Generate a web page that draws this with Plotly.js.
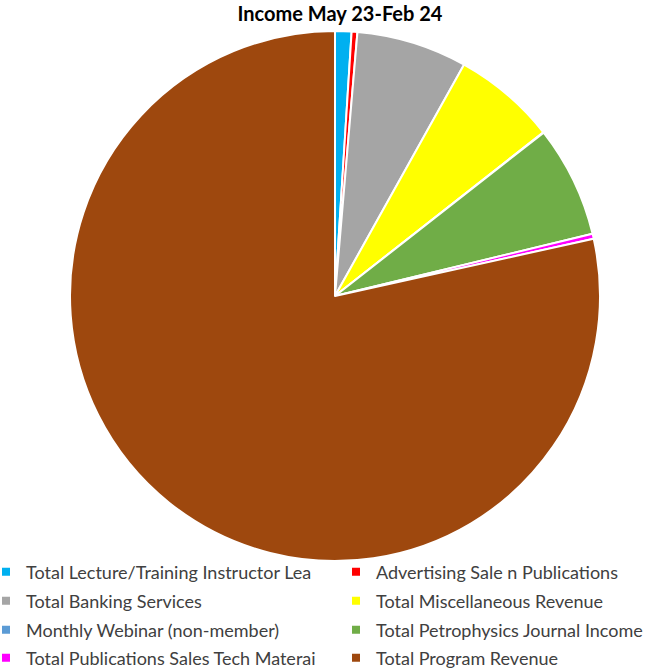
<!DOCTYPE html>
<html><head><meta charset="utf-8">
<script src="https://cdn.plot.ly/plotly-3.0.1.min.js"></script>
<style>html,body{margin:0;padding:0;background:#fff}#c{width:645px;height:671px}</style>
</head><body><div id="c"></div>
<script>
const labels = ["Total Lecture/Training Instructor Lea","Advertising Sale n Publications","Total Banking Services","Total Miscellaneous Revenue","Monthly Webinar (non-member)","Total Petrophysics Journal Income","Total Publications Sales Tech Materai","Total Program Revenue"];
const values = [1.0, 0.35, 6.75, 6.3, 0.03, 6.8, 0.3, 78.47];
const colors = ["#00B0F0","#FF0000","#A5A5A5","#FFFF00","#5B9BD5","#70AD47","#FF00FF","#9E480E"];

const W = 645, H = 671, M = {l: 0, r: 0, t: 31, b: 110};
const plotH = H - M.t - M.b;

const traces = [{
  type: 'pie', labels: labels, values: values, sort: false, direction: 'clockwise', rotation: 0,
  domain: {x: [70 / W, 600 / W], y: [0, 1]},
  marker: {colors: colors, line: {color: '#ffffff', width: 2}},
  textinfo: 'none', hoverinfo: 'label+percent', showlegend: false
}];
const legKey = i => (i === 0 ? 'legend' : 'legend' + (i + 1));
// legend entries (2 columns x 4 rows), one legend box per entry
labels.forEach((lab, i) => {
  traces.push({
    type: 'scatter', mode: 'markers', x: [null], y: [null], name: lab,
    marker: {symbol: 'square', size: 8, color: colors[i]},
    legend: legKey(i), showlegend: true, hoverinfo: 'skip'
  });
});

const rowCenters = [572, 601, 630, 658];
const colLefts = [-14, 336];
const legFont = {family: 'Lato, Open Sans, sans-serif', size: 18, color: '#404040'};
const layout = {
  width: W, height: H,
  margin: Object.assign({autoexpand: false}, M),
  paper_bgcolor: '#fff', plot_bgcolor: 'rgba(0,0,0,0)',
  xaxis: {visible: false}, yaxis: {visible: false},
  title: {text: '<b>Income May 23-Feb 24</b>', x: 340 / W, xanchor: 'center', y: 1 - 14 / H, yanchor: 'middle',
          font: {family: 'Lato, Open Sans, sans-serif', size: 20, color: '#000'}},
  showlegend: true
};
labels.forEach((lab, i) => {
  const r = Math.floor(i / 2), c = i % 2;
  layout[legKey(i)] = {
    orientation: 'v', x: colLefts[c] / W, xanchor: 'left',
    y: (H - M.b - rowCenters[r]) / plotH, yanchor: 'middle',
    bgcolor: 'rgba(0,0,0,0)', font: legFont
  };
});
Plotly.newPlot('c', traces, layout, {displayModeBar: false, staticPlot: true});
</script></body></html>
